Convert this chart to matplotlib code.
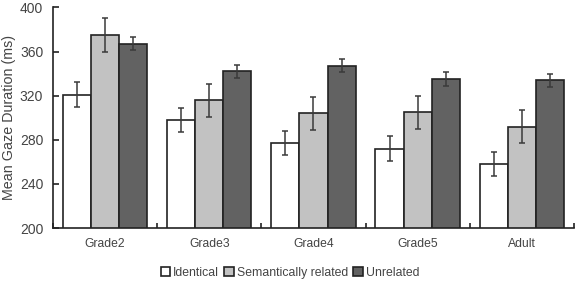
import numpy as np
import matplotlib
matplotlib.use("Agg")
import matplotlib.pyplot as plt

plt.rcParams['font.family'] = ['Liberation Sans', 'DejaVu Sans']

# data
groups     = ["Grade2", "Grade3", "Grade4", "Grade5", "Adult"]
identical  = [321, 298, 277, 272, 258]
semantic   = [375, 316, 304, 305, 292]
unrelated  = [367, 342, 347, 335, 334]
err_ident  = [11, 11, 11, 11, 11]
err_sem    = [15, 15, 15, 15, 15]
err_unrel  = [6, 6, 6, 6, 6]
labels     = ["Identical", "Semantically related", "Unrelated"]
colors     = ["#ffffff", "#c2c2c2", "#626262"]

txtc = "#444444"
fig = plt.figure(figsize=(5.78, 2.85), dpi=100)
ax = fig.add_axes([0.0917, 0.2, 0.9013, 0.774])

x = np.arange(len(groups))
w = 0.27
series = [(identical, err_ident), (semantic, err_sem), (unrelated, err_unrel)]
for k, (vals, errs) in enumerate(series):
   ax.bar(x + (k-1)*w, vals, w, color=colors[k], edgecolor="#222222", linewidth=1.2,
          label=labels[k], zorder=2)
   ax.errorbar(x + (k-1)*w, vals, yerr=errs, fmt="none", ecolor="#3a3a3a",
               elinewidth=1.1, capsize=2.5, capthick=1.1, zorder=3)

ax.set_xlim(-0.5, len(groups) - 0.5)
ax.set_ylim(200, 400)
ax.set_yticks([200, 240, 280, 320, 360, 400])
ax.set_xticks(x)
ax.set_xticklabels(groups)
ax.set_xticks(np.arange(len(groups) + 1) - 0.5, minor=True)
ax.tick_params(axis="x", which="major", length=0, pad=7, labelsize=8.7, labelcolor=txtc)
ax.tick_params(axis="x", which="minor", direction="in", length=3.5, width=1.2, color="#222222")
ax.tick_params(axis="y", direction="in", length=4, width=1.2, color="#222222",
               labelsize=10, labelcolor=txtc, pad=7)
ax.set_ylabel("Mean Gaze Duration (ms)", fontsize=10.3, color=txtc, labelpad=3)
for s in ["top", "right"]:
   ax.spines[s].set_visible(False)
for s in ["left", "bottom"]:
   ax.spines[s].set_linewidth(1.2)
   ax.spines[s].set_color("#222222")

ax.legend(loc="upper center", bbox_to_anchor=(0.455, -0.125), ncol=3, frameon=False,
          fontsize=8.8, handlelength=0.8, handleheight=0.8, handletextpad=0.25,
          columnspacing=0.4, labelcolor=txtc)

fig.savefig("out.png", dpi=100)
